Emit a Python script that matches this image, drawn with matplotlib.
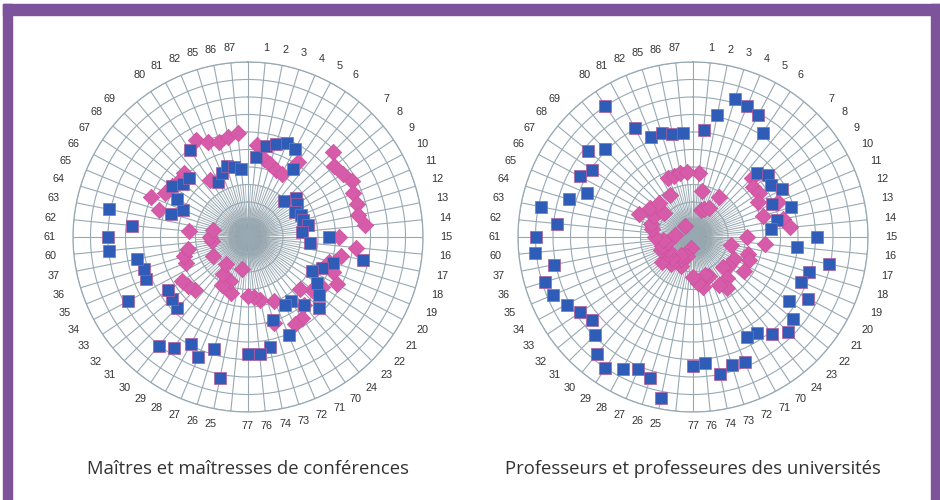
import numpy as np
import matplotlib
matplotlib.use("Agg")
import matplotlib.pyplot as plt
from matplotlib.patches import Rectangle

# 64 spokes, clockwise from the top; '' = empty spoke between groups
labels = ['', '1', '2', '3', '4', '5', '6', '',
          '7', '8', '9', '10', '11', '12', '13', '14', '15', '16', '17', '18',
          '19', '20', '21', '22', '23', '24', '70', '71', '72', '73', '74', '76',
          '77', '', '25', '26', '27', '28', '29', '30', '31', '32', '33', '34',
          '35', '36', '37', '60', '61', '62', '63', '64', '65', '66', '67', '68',
          '69', '', '80', '81', '82', '85', '86', '87']

# values per labelled spoke (same order as labels without the blanks), scale 0-100
mcf_bleu = [46.1, 53.1, 55.3, 58.3, 57.1, 46.5,
            28.8, 35.5, 34.0, 30.5, 32.9, 33.1, 35.0, 31.2, 46.5, 35.7, 66.9,
            50.8, 45.8, 41.7, 47.7, 52.3, 57.3, 50.6, 44.3, 44.3, 60.6, 49.8, 64.1,
            67.1, 66.9,
            81.9, 67.0, 74.4, 69.3, 76.1, 80.6, 57.6, 56.2, 55.0, 77.9,
            63.2, 62.2, 64.5,
            79.9, 80.2, 66.4, 80.9, 45.8, 40.2, 45.9, 52.1, 47.7, 47.8,
            60.0, 35.8, 39.4, 42.1, 40.8, 39.1]
mcf_rose = [52.7, 45.7, 43.4, 41.7, 41.1, 51.3,
            68.7, 63.9, 65.0, 67.7, 65.1, 65.3, 63.8, 67.1, 52.2, 61.9, 54.3,
            48.6, 52.6, 57.4, 51.0, 47.4, 42.4, 50.3, 55.5, 56.6, 39.5, 51.4, 36.5,
            34.2, 33.7,
            18.9, 33.4, 27.0, 31.3, 25.6, 19.8, 43.1, 44.4, 45.7, 22.6,
            38.1, 38.0, 34.7,
            20.9, 21.7, 33.7, 20.2, 53.4, 59.7, 53.6, 52.0, 50.7, 52.1,
            38.9, 63.1, 59.0, 56.5, 58.4, 59.5]
pr_bleu = [61.6, 71.2, 82.6, 81.1, 79.2, 71.5,
           51.8, 55.6, 53.9, 57.6, 48.7, 58.7, 49.1, 44.8, 70.7, 59.7, 79.4,
           69.0, 66.5, 74.8, 66.3, 73.8, 77.0, 71.4, 66.2, 65.0, 77.6, 76.6, 79.9,
           72.1, 73.7,
           93.9, 83.9, 81.8, 85.4, 90.1, 86.2, 78.8, 74.9, 77.4, 81.9,
           86.7, 88.1, 80.9,
           90.8, 89.7, 77.9, 88.4, 74.2, 65.5, 73.5, 69.2, 77.3, 71.1,
           90.2, 70.9, 62.1, 61.9, 60.3, 59.9]
pr_rose = [36.6, 26.9, 16.2, 17.1, 18.9, 27.2,
           48.0, 44.6, 45.7, 42.3, 52.4, 41.7, 52.3, 55.7, 30.7, 41.4, 22.3,
           32.6, 34.6, 26.3, 34.9, 25.7, 24.2, 30.3, 35.1, 31.4, 24.3, 22.9, 29.1,
           26.5, 22.9,
           6.7, 11.4, 17.7, 14.3, 12.2, 20.0, 17.1, 22.9, 17.1, 16.0,
           20.0, 18.3, 14.3,
           17.1, 21.7, 10.3, 24.0, 25.1, 33.7, 25.1, 29.5, 21.7, 27.4,
           7.8, 27.3, 36.6, 36.6, 37.4, 37.5]

titres = ['Maîtres et maîtresses de conférences',
          'Professeurs et professeures des universités']

bleu = '#2f5cb6'
rose = '#d65ba8'
grille = '#98a9b3'
violet = '#7d539b'

n = len(labels)
theta = np.arange(n) * 2 * np.pi / n
pleins = [i for i, l in enumerate(labels) if l != '']
th = theta[pleins]

fig = plt.figure(figsize=(9.4, 5.0), dpi=100)
fig.patch.set_facecolor('white')

# cadre violet
fig.patches.append(Rectangle((3 / 940, 0), 9 / 940, 496 / 500, transform=fig.transFigure,
                             color=violet, zorder=0))
fig.patches.append(Rectangle((3 / 940, 485 / 500), 937 / 940, 11 / 500, transform=fig.transFigure,
                             color=violet, zorder=0))
fig.patches.append(Rectangle((931 / 940, 0), 9 / 940, 496 / 500, transform=fig.transFigure,
                             color=violet, zorder=0))

centres = [248, 693]
series = [(mcf_rose, mcf_bleu), (pr_rose, pr_bleu)]

for k in range(2):
    cx = centres[k]
    ax = fig.add_axes([(cx - 175) / 940, (500 - 237 - 175) / 500, 350 / 940, 350 / 500],
                      projection='polar')
    ax.set_theta_zero_location('N')
    ax.set_theta_direction(-1)
    ax.set_ylim(0, 100)
    ax.set_yticks(np.arange(10, 101, 10))
    ax.set_yticklabels([])
    ax.set_xticks(theta)
    ax.set_xticklabels([])
    ax.grid(True, color=grille, linewidth=0.8)
    ax.spines['polar'].set_color(grille)
    ax.spines['polar'].set_linewidth(0.9)
    # rayons supplementaires et centre grise
    for t in theta + np.pi / n:
        ax.plot([t, t], [0, 30], color=grille, linewidth=0.5, zorder=1)
    tt = np.linspace(0, 2 * np.pi, 200)
    for rr, a in [(17, 0.12), (12, 0.25), (8, 0.3), (4, 0.3)]:
        ax.fill_between(tt, 0, rr, color='#7a7a7a', alpha=a, linewidth=0, zorder=1)

    # numeros de sections autour du cercle
    for t, lab in zip(theta, labels):
        if lab:
            rl = 108 + 5.5 * abs(np.sin(t))
            ax.text(t, rl, lab, ha='center', va='center', fontsize=7.8,
                    family='Liberation Sans', color='#333333', clip_on=False)

    r_rose, r_bleu = series[k]
    ax.scatter(th, r_rose, marker='D', s=70, color=rose, edgecolors='#cf4f9f',
               linewidths=0.5, zorder=3, clip_on=False)
    ax.scatter(th, r_bleu, marker='s', s=70, color=bleu, edgecolors='#b45a9e',
               linewidths=0.5, zorder=4, clip_on=False)

    fig.text(cx / 940, 1 - 469 / 500, titres[k], ha='center', va='center',
             fontsize=13.3, family='Open Sans', color='#333333')

fig.savefig('out.png', dpi=100)
